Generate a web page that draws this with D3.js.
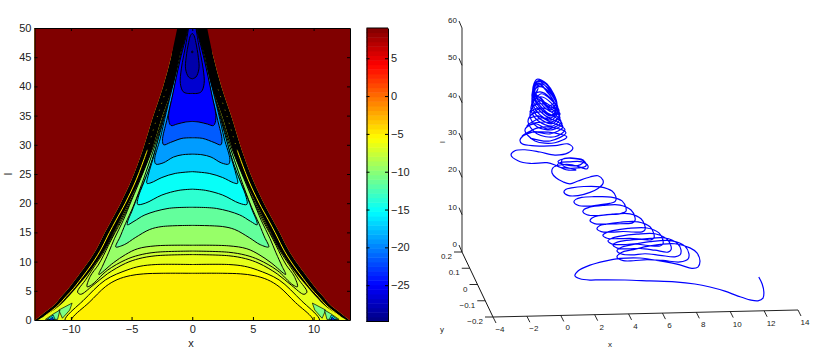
<!DOCTYPE html>
<html>
<head>
<meta charset="utf-8">
<script src="https://cdn.jsdelivr.net/npm/d3@7"></script>
<style>
html, body { margin: 0; padding: 0; background: #fff; }
svg { display: block; }
text { font-family: "Liberation Sans", Arial, sans-serif; fill: #222; }
</style>
</head>
<body>
<svg width="830" height="361"></svg>
<script>
// tick labels
const xTicks = [-10, -5, 0, 5, 10];
const lTicks = [0, 5, 10, 15, 20, 25, 30, 35, 40, 45, 50];
const barTicks = [-25, -20, -15, -10, -5, 0, 5];
const ticks3dX = [-4, -2, 0, 2, 4, 6, 8, 10, 12, 14];
const ticks3dY = [-0.2, -0.1, 0, 0.1, 0.2];
const ticks3dL = [0, 10, 20, 30, 40, 50, 60];

// jet colormap
const jetStops = [0, 0.125, 0.375, 0.625, 0.875, 1];
const jetColors = ["#000080", "#0000ff", "#00ffff", "#ffff00", "#ff0000", "#800000"];
const valueMin = -29.8;
const valueMax = 9;

// left half of the symmetric contour picture, [x, l]
const outerEdge = [[-12.95,0],[-12.4,0.9],[-11.9,1.7],[-11.36,2.6],[-10.8,4],[-10.2,5.4],[-9.35,7.7],[-8.75,9.4],[-8.2,11.1],[-7.8,12.5],[-7.2,15],[-6.65,17.1],[-5.9,20],[-5,24],[-4.1,29],[-3.2,35],[-2.4,40],[-1.75,45],[-1.23,50]];
const innerEdge = [[-12.7,0],[-12,0.9],[-11.4,1.7],[-10.85,2.6],[-10.2,4],[-9.6,5.4],[-8.65,7.7],[-8.05,9.4],[-7.5,11.1],[-7.08,12.5],[-6.46,15],[-5.95,17.1],[-5.25,20],[-4.3,24],[-3.35,29],[-2.45,35],[-1.6,40],[-1.05,45],[-0.53,50]];
const yellowStreak = [[-12.2,0.6],[-11.1,2.4],[-10.4,4],[-9.78,5.4],[-8.93,7.7],[-8.33,9.4],[-7.8,11.1],[-7.42,12.5],[-6.82,15],[-6.28,17.1],[-5.52,20],[-4.62,24],[-3.72,29]];
const yellowDots = [[-3.72,29],[-2.85,35],[-2.05,40]];

const baseValue = -5;
const contourValues = [-5.6, -6.5, -7.5, -8.2, -9.5, -11.5, -13.5, -15, -17, -19, -21.5, -25, -26.7, -28.2, -29.3];
const contours = [
  [[0,8],[-2.5,8],[-4,7.9],[-5.1,7.6],[-6.2,6.9],[-7.16,5.7],[-8.5,3],[-9.9,0.3],[-10.1,-1],[-14,-1],[-14,55],[0,55]],
  [[0,9.5],[-3,9.5],[-4.3,9.2],[-5.37,8.56],[-7.16,6.85],[-9,3.3],[-10.45,0.3],[-10.6,-1],[-14,-1],[-14,55],[0,55]],
  [[0,11.2],[-3,11],[-4.4,10.5],[-5.5,9.7],[-7,7.9],[-8.2,5.9],[-9.2,4.4],[-9.45,4.8],[-8.75,7],[-8,9.4],[-7.45,11.1],[-7.03,12.6],[-6.42,15],[-5.9,17.1],[-5.2,20],[-4.25,24],[-3.3,29],[-2.4,35],[-1.55,40],[-1,45],[-0.48,50],[-0.3,51.5]],
  [[0,11.8],[-3,11.6],[-4.4,11.1],[-5.5,10.3],[-7,8.5],[-8.3,6],[-8.67,5.7],[-8.4,7.5],[-7.75,9.4],[-7.3,11.1],[-6.9,12.8],[-6.35,15],[-5.8,17.1],[-5.12,20],[-4.2,24],[-3.25,29],[-2.35,35],[-1.5,40],[-0.95,45],[-0.45,50],[-0.3,51.5]],
  [[0,12.8],[-3,12.7],[-4.5,12.2],[-5.5,11.2],[-6.5,9.8],[-7.7,7.8],[-7.4,9.2],[-6.9,11.5],[-6.4,14],[-5.7,17],[-5,20.5],[-4,25.5],[-3.15,30],[-2.3,35],[-1.45,40],[-0.9,45],[-0.42,50],[-0.3,51.5]],
  [[0,16.2],[-2.5,16],[-3.5,15.5],[-4.7,14.1],[-5.6,12.9],[-6.3,12.5],[-6.25,13],[-6,14],[-5.5,16.5],[-4.85,19.5],[-3.95,24.5],[-3.05,30],[-2.25,35],[-1.4,40],[-0.85,45],[-0.4,50],[-0.28,51.5]],
  [[0,19.3],[-2,19.1],[-3.9,18],[-4.8,16.9],[-5.35,16.3],[-5.3,17],[-5,18.5],[-4.4,21.7],[-3.6,25.5],[-2.9,30],[-2.2,35],[-1.35,40],[-0.82,45],[-0.38,50],[-0.26,51.5]],
  [[0,22.4],[-1.1,22.2],[-2.5,21.4],[-3.87,20],[-4.5,19.8],[-4.45,21],[-4,23.5],[-3.45,26.5],[-2.85,30.5],[-2.15,35.3],[-1.3,40.5],[-0.8,45],[-0.36,50],[-0.25,51.5]],
  [[0,25.4],[-1.4,25.1],[-2.5,24.4],[-3.4,23.5],[-3.73,23.4],[-3.6,25],[-3.25,27.5],[-2.8,31],[-2.2,35.5],[-1.55,40.5],[-0.8,46],[-0.34,50.5],[-0.25,51.5]],
  [[0,28.4],[-0.8,28.3],[-1.55,27.9],[-2.4,26.9],[-3,26.7],[-3.1,27.5],[-2.65,31],[-2.15,35.5],[-1.5,41],[-0.9,46],[-0.32,50.5],[-0.24,51.5]],
  [[0,31.2],[-0.85,31.1],[-1.8,30.4],[-2.35,30],[-2.45,30.8],[-2.1,34.2],[-1.55,39],[-1,44.5],[-0.3,50.5],[-0.23,51.5]],
  [[0,34],[-0.55,33.9],[-1.26,33.55],[-1.75,33.3],[-1.95,34.6],[-1.6,38.7],[-1,44.5],[-0.28,50.5],[-0.22,51.5]],
  [[0,38.8],[-0.4,38.8],[-0.75,39.1],[-0.98,40.5],[-0.9,43],[-0.5,47.5],[-0.27,50.5],[-0.2,51.5]],
  [[0,41.3],[-0.3,41.6],[-0.55,43],[-0.5,45],[-0.3,47.5],[-0.15,48.7],[0,49.1]],
  [[0,45.7],[-0.06,45.9],[0,46.1]]
];

// small lobes at the foot of the wedge
const lobeValues = [-10.5, -11, -15.5, -23];
const lobes = [
  [[-11,1.7],[-9.9,2.9],[-10.1,1.7],[-10.7,0.3]],
  [[-12.1,0.1],[-11.4,1.1],[-10.9,1.7],[-11.1,0.1]],
  [[-11.96,0.1],[-11.46,0.85],[-11.3,0.1]],
  [[-11.8,0],[-11.5,0.5],[-11.45,0]]
];

// trajectory in the y = 0 plane, [x, l]
const trajectory = [
  [12.6,0.3],[12.8,-1.6],[12.9,-3.8],[12.85,-5.4],[12.55,-6.1],[12.08,-5.8],[11.37,-4.7],[10.6,-3.3],[9.72,-2.1],[8.83,-1.2],[7.65,-0.5],[6.18,-0.1],[4.7,0.3],[3.23,0.5],[2.64,0.5],[2.05,0.9],[1.75,1.7],[1.93,3],[2.64,4.5],[3.52,5.5],[4.41,6.1],[5.59,6.1],[6.77,5.2],[7.95,4],[8.65,3],[9.01,3.3],[9.13,4.9],[8.95,7.1],[8.54,8.5],[7.65,9.7],[6.18,9.3],[5.1,8.3],[4.5,7.7],[4.23,6.5],
  [4.6,5.5],[5.2,5.4],[6,5.6],[6.94,5.3],[7.95,4.8],[8.42,5.5],[8.48,6.9],[8.24,9],[7.48,10.5],[6.18,10.4],[5,9.6],[4.5,9.1],[4.23,8.2],
  [4.5,7.3],[5.1,7],[5.9,7.2],[6.77,6.7],[7.65,6.2],[7.95,6.7],[8.01,8],[7.77,9.9],[7.06,11.3],[5.88,11.2],[4.8,10.9],[4.25,10.5],[3.99,9.8],
  [4.25,8.9],[4.9,8.6],[5.6,8.7],[6.47,8.1],[7.24,7.5],[7.42,8.1],[7.42,9.1],[7.18,11],[6.47,12.5],[5.41,12.5],[4.45,12.1],[3.95,11.6],[3.7,10.9],
  [3.95,10],[4.6,9.8],[5.3,9.9],[6.06,9.4],[6.77,9.2],[6.94,9.7],[6.94,10.8],[6.71,12.7],[6,14.1],[4.88,14.1],[4,13.6],[3.6,13.1],[3.4,12.4],
  [3.65,11.6],[4.3,11.4],[5,11.4],[5.7,11.1],[6.24,10.9],[6.41,11.4],[6.41,12.5],[6.18,14.4],[5.47,15.8],[4.41,15.8],[3.6,15.4],[3.2,15],[3.05,14.2],
  [3.3,13.4],[3.9,13.2],[4.6,13.3],[5.2,13.1],[5.71,13.1],[5.88,13.6],[5.88,14.7],[5.65,16.6],[5,18],[3.94,18],[3.15,17.7],[2.76,17.1],[2.64,16.4],
  [2.9,15.6],[3.5,15.4],[4.2,15.4],[4.8,15.4],[5.12,15.5],[5.29,16.1],[5.29,17.1],[5.06,19],[4.41,20.4],[3.4,20.4],[2.6,20],[2.3,19.5],[2.22,18.8],
  [2.46,18],[3,17.7],[3.7,17.9],[4.3,18],[4.58,18.3],[4.76,18.7],[4.76,19.6],[4.53,21.5],[3.88,22.6],[2.87,22.8],[2.15,22.7],[1.8,22.2],[1.69,21.5],
  [1.93,20.6],[2.5,20.3],[3.2,20.6],[3.8,20.9],[4.1,21.3],[4.17,21.8],[4.17,22.6],[3.94,24.2],[3.23,25.4],[2.28,25.6],[1.55,25.3],[1.2,24.9],[1.1,24.2],
  [1.34,23.3],[1.93,23.2],[2.64,24],[3.11,25],[3.4,26.2],[3.4,27.2],[3.11,28.4],[2.64,28.1],[1.93,27.1],[1.46,26.4],[1.04,27],[0.63,28.1],[0.4,29.4],
  [0.45,30.8],[0.87,31.5],[1.58,31.5],[2.17,30.6],[2.46,30.3],[2.52,31.1],[2.17,32.2],[1.46,32.3],[0.87,32.1],[0.69,31.3],[1.16,30.7],[1.93,30.6],[2.4,31.1],[2.34,32.2],[1.75,33.1],[1.04,33.1],[0.75,32.4],[1.22,31.5],[2.05,31.4],[2.28,32.5],[1.64,33.3],[0.99,32.9],[1.04,31.3],[1.81,30.1],[1.22,30.2],[0.69,31.3],
  [0.1,32.2],[-0.9,32.1],[-1.61,32.9],[-2.02,34.5],[-1.79,35.6],[-1.2,35.8],[-0.31,35.1],[0.57,34.2],[1.34,34.7],[1.63,36],[1.34,37.1],[0.57,36.7],[-0.61,36.8],[-1.37,37.4],[-1.49,38.5],
  [-1.02,40.3],[-0.31,40.5],[0.57,40.1],[1.27,39],[0.57,37.5],[-0.61,38.1],[-1.2,41.1],
  [-0.78,42.7],[-0.02,43.1],[0.75,42.3],[1.16,40.9],[0.57,39.1],[-0.49,40],[-1.02,43.3],
  [-0.73,45.4],[-0.13,45.8],[0.57,44.4],[0.99,42.5],[0.45,41],[-0.49,41.9],[-0.9,44.8],
  [-0.67,47.5],[-0.13,48],[0.45,46.3],[0.87,44.1],[0.45,42],[-0.43,43.5],[-0.84,46.5],
  [-0.67,49.1],[-0.25,49.9],[0.34,48.2],[0.81,44.7],[0.4,42.6],[-0.43,44.5],[-0.78,47.8],
  [-0.67,50.5],[-0.31,51.2],[0.28,49.6],[0.75,45.8],[0.34,43.6],[-0.43,45.6],[-0.78,49.1],
  [-0.67,51.5],[-0.37,52.6],[0.22,51.2],[0.75,46.3],[0.34,44.2],[-0.43,46.7],[-0.78,49.9],
  [-0.67,52.3],[-0.37,53.4],[0.22,52],[0.69,46.8],[0.4,44.7],[-0.37,47.2],[-0.73,50.5],
  [-0.67,52.9],[-0.43,54.2],[0.16,52.8],[0.69,47.4],[0.4,45],[-0.31,47.5],[-0.73,51],
  [-0.67,53.4],[-0.49,54.6],[0.1,53.3],[0.69,47.6],[0.4,45.8],[-0.25,48],[-0.67,51],
  [-0.61,53.1],[-0.37,54],[0.1,52.3],[0.63,48.2],[0.34,46.3],[-0.25,48.8],[-0.67,50.5],
  [-0.61,52.6],[-0.37,53.6],[0.04,51.7],[0.57,47.6],[0.22,46.9],[-0.25,49.3],[-0.61,51],
  [-0.55,52.3],[-0.31,53.1],[0.1,51.2],[0.51,48.2],[0.16,47.4],[-0.25,49.6],[-0.55,50.2],[-0.43,52.1],
  [-0.73,48.6],[-0.25,50.7],[0.34,49],[0.81,45.8],[0.28,44.7],[-0.43,46.9],
  [-0.9,45.9],[-0.31,48.8],[0.4,47.1],[0.87,45.2],[0.4,43.1],[-0.43,44.8],
  [-0.96,44.3],[-0.25,46.9],[0.45,45.5],[0.93,43],[0.16,41.2],[-0.55,42.7],
  [-1.08,42.2],[-0.25,44.2],[0.51,43.6],[1.04,41.7],[0.28,39.9],[-0.67,40.5],
  [-1.37,39.5],[-0.43,41.6],[0.57,41.5],[1.22,40.1],[0.28,38],[-0.9,38.9]
];

const svg = d3.select("svg");

// ---------- left plot ----------
const x = d3.scaleLinear().domain([-13, 13]).range([34.5, 350]);
const y = d3.scaleLinear().domain([0, 50]).range([320, 28]);
const color = d3.scaleLinear()
  .domain(jetStops.map(s => valueMin + s * (valueMax - valueMin)))
  .range(jetColors);

const curve = d3.line().x(d => x(d[0])).y(d => y(d[1])).curve(d3.curveCatmullRom.alpha(0.5));
const straight = d3.line().x(d => x(d[0])).y(d => y(d[1]));

function mirror(pts) {
  return pts.map(p => [-p[0], p[1]]);
}
// both sides joined into one closed shape
function closedPath(pts) {
  const half = pts.slice();
  const other = mirror(pts).reverse();
  return curve(half.concat(other)) + "Z";
}

svg.append("clipPath").attr("id", "plotClip").append("rect")
  .attr("x", x(-13)).attr("y", y(50)).attr("width", x(13) - x(-13)).attr("height", y(0) - y(50));

const plot = svg.append("g").attr("clip-path", "url(#plotClip)");

plot.append("rect")
  .attr("x", x(-13)).attr("y", y(50)).attr("width", x(13) - x(-13)).attr("height", y(0) - y(50))
  .attr("fill", color(baseValue));

contours.forEach((c, i) => {
  plot.append("path")
    .attr("d", closedPath(c))
    .attr("fill", color(contourValues[i]))
    .attr("stroke", "#000")
    .attr("stroke-width", 1);
});

[lobes, lobes.map(mirror)].forEach(set => {
  set.forEach((c, i) => {
    plot.append("path")
      .attr("d", straight(c) + "Z")
      .attr("fill", color(lobeValues[i]))
      .attr("stroke", "#000")
      .attr("stroke-width", 0.7);
  });
});

// black band of packed contours, and the dark red outside it
[p => p, p => [-p[0], p[1]]].forEach(side => {
  const outer = outerEdge.map(side);
  const inner = innerEdge.map(side);
  plot.append("path")
    .attr("d", curve(outer.concat(inner.slice().reverse())) + "Z")
    .attr("fill", "#000");
  plot.append("path")
    .attr("d", curve(outer) + "L" + x(side([-1, 51])[0]) + "," + y(51) + "L" + x(side([-14, 51])[0]) + "," + y(51) + "L" + x(side([-14, 0])[0]) + "," + y(-1) + "Z")
    .attr("fill", color(valueMax));
  plot.append("path")
    .attr("d", curve(yellowStreak.map(side)))
    .attr("fill", "none").attr("stroke", "#ffee00").attr("stroke-width", 1);
  plot.append("path")
    .attr("d", curve(yellowDots.map(side)))
    .attr("fill", "none").attr("stroke", "#b8a800").attr("stroke-width", 0.8).attr("stroke-dasharray", "1 6");
});

function styleAxis(g, size) {
  g.attr("font-family", null).attr("font-size", size);
  g.select(".domain").attr("stroke", "#000");
  g.selectAll(".tick line").attr("stroke", "#000");
}

svg.append("g").attr("transform", `translate(0,${y(0)})`)
  .call(d3.axisBottom(x).tickValues(xTicks).tickSize(-3).tickPadding(5).tickSizeOuter(0))
  .call(styleAxis, 11);
svg.append("g").attr("transform", `translate(0,${y(50)})`)
  .call(d3.axisTop(x).tickValues(xTicks).tickSize(-3).tickFormat("").tickSizeOuter(0))
  .call(styleAxis, 11);
svg.append("g").attr("transform", `translate(${x(-13)},0)`)
  .call(d3.axisLeft(y).tickValues(lTicks).tickSize(-3).tickPadding(3).tickSizeOuter(0))
  .call(styleAxis, 11);
svg.append("g").attr("transform", `translate(${x(13)},0)`)
  .call(d3.axisRight(y).tickValues(lTicks).tickSize(-3).tickFormat("").tickSizeOuter(0))
  .call(styleAxis, 11);

svg.append("text").attr("x", 191).attr("y", 347).attr("text-anchor", "middle").attr("font-size", 11).text("x");
svg.append("text").attr("transform", "translate(12,174) rotate(-90)").attr("text-anchor", "middle").attr("font-size", 11).text("l");

// ---------- colorbar ----------
const barLeft = 366.5;
const barRight = 388;
const barScale = d3.scaleLinear().domain([valueMin, valueMax]).range([321.5, 28]);
const steps = 64;
d3.range(steps).forEach(i => {
  const v0 = valueMin + i * (valueMax - valueMin) / steps;
  const v1 = valueMin + (i + 1) * (valueMax - valueMin) / steps;
  svg.append("rect")
    .attr("x", barLeft).attr("width", barRight - barLeft)
    .attr("y", barScale(v1)).attr("height", barScale(v0) - barScale(v1) + 0.5)
    .attr("fill", color((v0 + v1) / 2));
});
svg.append("g").attr("transform", `translate(${barRight},0)`)
  .call(d3.axisRight(barScale).tickValues(barTicks).tickSize(-3).tickPadding(3).tickSizeOuter(0))
  .call(styleAxis, 11);
svg.append("g").attr("transform", `translate(${barLeft},0)`)
  .call(d3.axisLeft(barScale).tickValues(barTicks).tickSize(-3).tickFormat("").tickSizeOuter(0))
  .call(styleAxis, 11);
svg.append("line").attr("x1", barLeft).attr("x2", barRight).attr("y1", 28).attr("y2", 28).attr("stroke", "#000");
svg.append("line").attr("x1", barLeft).attr("x2", barRight).attr("y1", 321.5).attr("y2", 321.5).attr("stroke", "#000");

// ---------- 3d plot ----------
const px = d3.scaleLinear().domain([-4, 14]).range([0, 305]);
const rise = d3.scaleLinear().domain([-4, 14]).range([0, -7]);
const pyx = d3.scaleLinear().domain([-0.2, 0.2]).range([0, -31]);
const pyy = d3.scaleLinear().domain([-0.2, 0.2]).range([0, -65]);
const pl = d3.scaleLinear().domain([0, 60]).range([0, -224]);
const corner = [493, 317];

function project(vx, vy, vl) {
  return [corner[0] + px(vx) + pyx(vy), corner[1] + rise(vx) + pyy(vy) + pl(vl)];
}

const axes = svg.append("g").attr("fill", "none");
const seg = (a, b, col, w) => axes.append("line")
  .attr("x1", a[0]).attr("y1", a[1]).attr("x2", b[0]).attr("y2", b[1])
  .attr("stroke", col).attr("stroke-width", w);

seg(project(-4, 0.2, 0), project(-4, 0.2, 60), "#666", 1.4);
seg(project(-4, 0.2, 0), project(-4, -0.2, 0), "#111", 1);
seg(project(-4, -0.2, 0), project(14, -0.2, 0), "#222", 1);

const label3d = (x0, y0, t, anchor) => svg.append("text")
  .attr("x", x0).attr("y", y0).attr("text-anchor", anchor).attr("font-size", 8).text(t);
const fmt = v => String(v).replace("-", "\u2212");

ticks3dL.forEach(v => {
  const p = project(-4, 0.2, v);
  seg(p, [p[0] - 3, p[1] - 7], "#111", 0.9);
  label3d(p[0] - 5, p[1] - 5, fmt(v), "end");
});
ticks3dY.forEach(v => {
  const p = project(-4, v, 0);
  seg(p, [p[0] - 8, p[1]], "#111", 0.9);
  label3d(p[0] - 10, p[1] + 7, fmt(v), "end");
});
ticks3dX.forEach(v => {
  const p = project(v, -0.2, 0);
  seg(p, [p[0] + 3, p[1] + 6], "#111", 0.9);
  label3d(p[0] + 7, p[1] + 15, fmt(v), "middle");
});

label3d(610, 347, "x", "middle");
label3d(442, 332, "y", "middle");
svg.append("text").attr("transform", "translate(445,142) rotate(-90)")
  .attr("text-anchor", "middle").attr("font-size", 8).text("l");

const trajLine = d3.line()
  .x(d => project(d[0], 0, d[1])[0])
  .y(d => project(d[0], 0, d[1])[1])
  .curve(d3.curveCatmullRom.alpha(0.5));

svg.append("path")
  .attr("d", trajLine(trajectory))
  .attr("fill", "none")
  .attr("stroke", "#0000ff")
  .attr("stroke-width", 1.2);
</script>
</body>
</html>
